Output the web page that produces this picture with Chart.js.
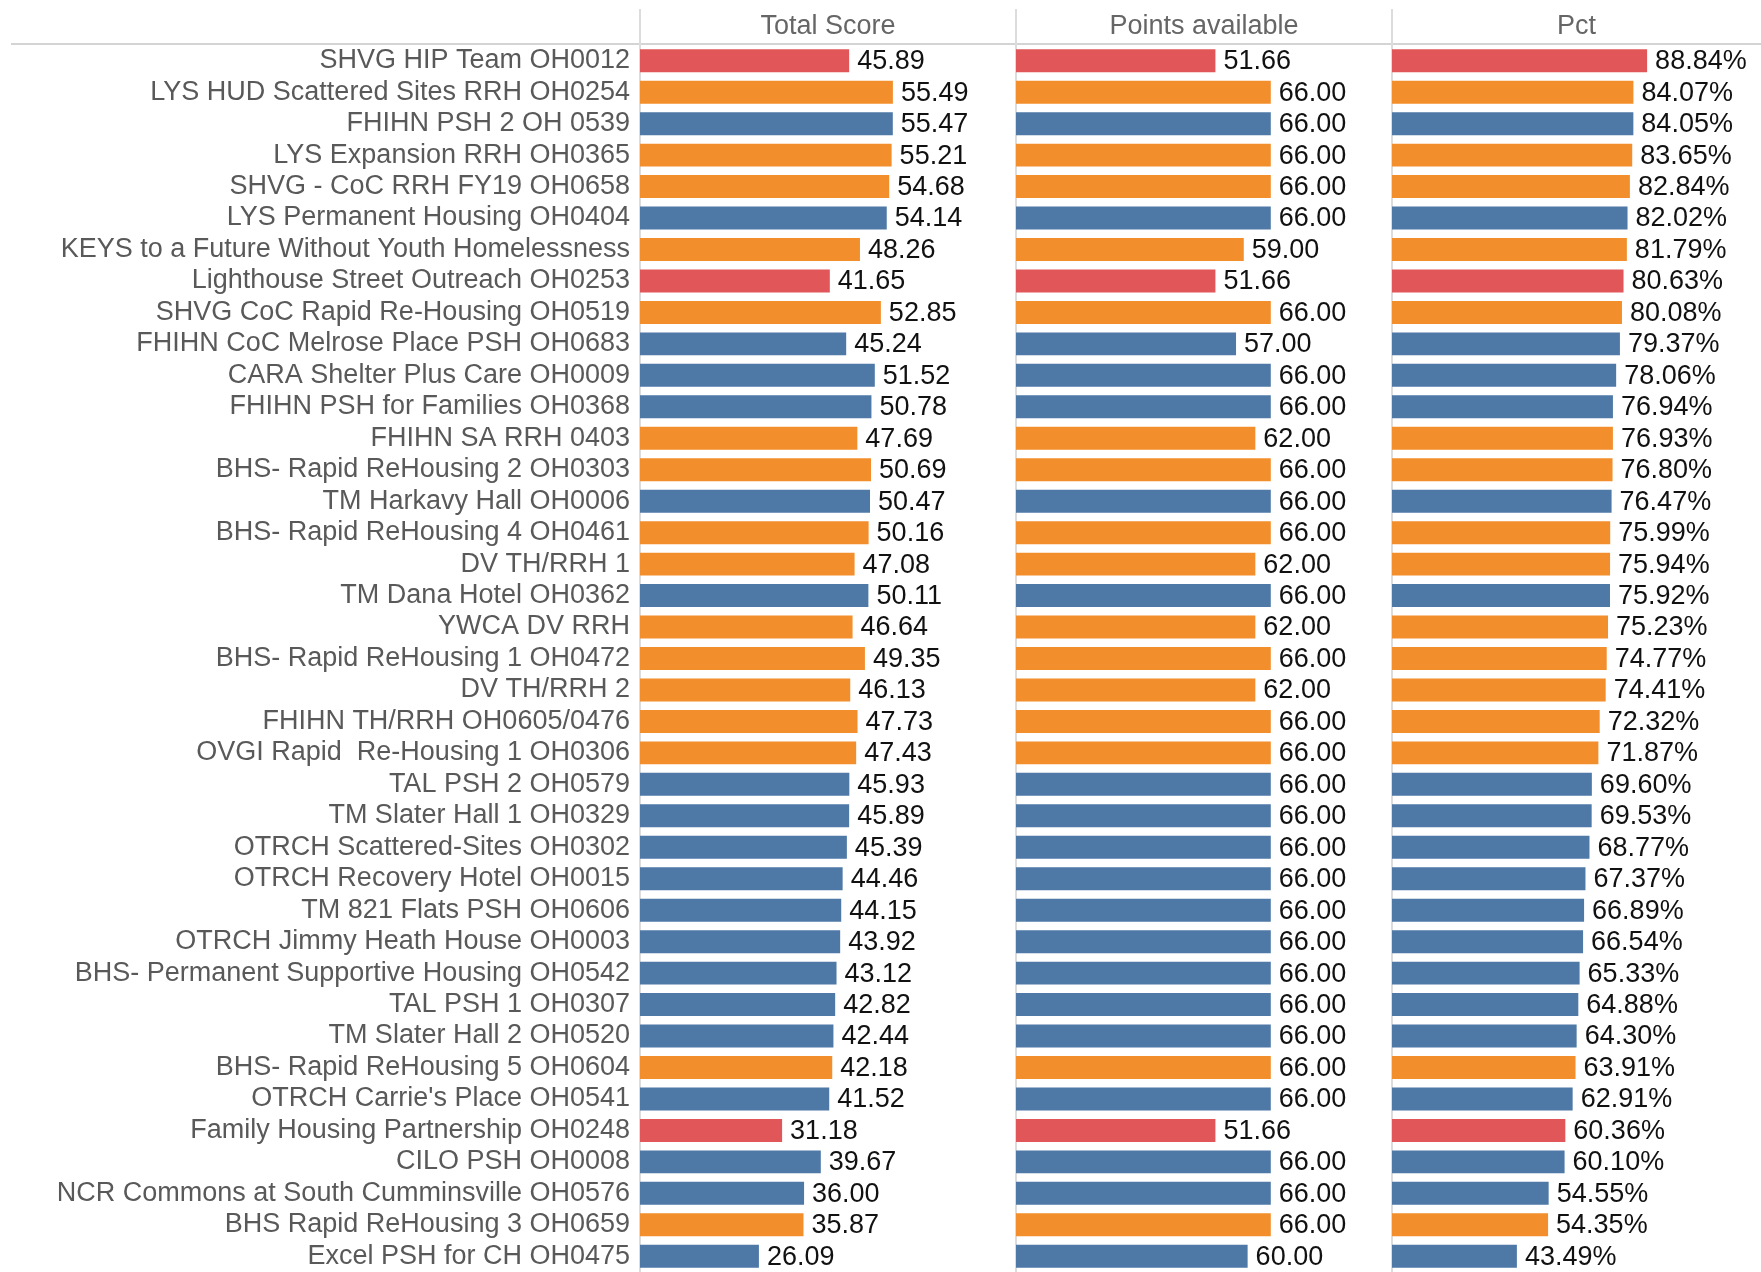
<!DOCTYPE html>
<html>
<head>
<meta charset="utf-8">
<title>Project scores</title>
<script src="https://cdn.jsdelivr.net/npm/chart.js@4.4.1/dist/chart.umd.min.js"></script>
<style>
    html, body { margin: 0; padding: 0; background: #fff; }
    #wrap { width: 1761px; height: 1272px; }
</style>
</head>
<body>
<div id="wrap"><canvas id="scoreChart" width="1761" height="1272"></canvas></div>
<script>
// プロジェクト名
const projects = [
    'SHVG HIP Team OH0012',
    'LYS HUD Scattered Sites RRH OH0254',
    'FHIHN PSH 2 OH 0539',
    'LYS Expansion RRH OH0365',
    'SHVG - CoC RRH FY19 OH0658',
    'LYS Permanent Housing OH0404',
    'KEYS to a Future Without Youth Homelessness',
    'Lighthouse Street Outreach OH0253',
    'SHVG CoC Rapid Re-Housing OH0519',
    'FHIHN CoC Melrose Place PSH OH0683',
    'CARA Shelter Plus Care OH0009',
    'FHIHN PSH for Families OH0368',
    'FHIHN SA RRH 0403',
    'BHS- Rapid ReHousing 2 OH0303',
    'TM Harkavy Hall OH0006',
    'BHS- Rapid ReHousing 4 OH0461',
    'DV TH/RRH 1',
    'TM Dana Hotel OH0362',
    'YWCA DV RRH',
    'BHS- Rapid ReHousing 1 OH0472',
    'DV TH/RRH 2',
    'FHIHN TH/RRH OH0605/0476',
    'OVGI Rapid  Re-Housing 1 OH0306',
    'TAL PSH 2 OH0579',
    'TM Slater Hall 1 OH0329',
    'OTRCH Scattered-Sites OH0302',
    'OTRCH Recovery Hotel OH0015',
    'TM 821 Flats PSH OH0606',
    'OTRCH Jimmy Heath House OH0003',
    'BHS- Permanent Supportive Housing OH0542',
    'TAL PSH 1 OH0307',
    'TM Slater Hall 2 OH0520',
    'BHS- Rapid ReHousing 5 OH0604',
    "OTRCH Carrie's Place OH0541",
    'Family Housing Partnership OH0248',
    'CILO PSH OH0008',
    'NCR Commons at South Cumminsville OH0576',
    'BHS Rapid ReHousing 3 OH0659',
    'Excel PSH for CH OH0475'
];

// プロジェクト種別 (色分け用)
const projectTypes = [
    'SSO', 'RRH', 'PSH', 'RRH', 'RRH', 'PSH', 'RRH', 'SSO', 'RRH', 'PSH',
    'PSH', 'PSH', 'RRH', 'RRH', 'PSH', 'RRH', 'RRH', 'PSH', 'RRH', 'RRH',
    'RRH', 'RRH', 'RRH', 'PSH', 'PSH', 'PSH', 'PSH', 'PSH', 'PSH', 'PSH',
    'PSH', 'PSH', 'RRH', 'PSH', 'SSO', 'PSH', 'PSH', 'RRH', 'PSH'
];

const totalScore = [
    45.89, 55.49, 55.47, 55.21, 54.68, 54.14, 48.26, 41.65, 52.85, 45.24,
    51.52, 50.78, 47.69, 50.69, 50.47, 50.16, 47.08, 50.11, 46.64, 49.35,
    46.13, 47.73, 47.43, 45.93, 45.89, 45.39, 44.46, 44.15, 43.92, 43.12,
    42.82, 42.44, 42.18, 41.52, 31.18, 39.67, 36.00, 35.87, 26.09
];

const pointsAvailable = [
    51.66, 66.00, 66.00, 66.00, 66.00, 66.00, 59.00, 51.66, 66.00, 57.00,
    66.00, 66.00, 62.00, 66.00, 66.00, 66.00, 62.00, 66.00, 62.00, 66.00,
    62.00, 66.00, 66.00, 66.00, 66.00, 66.00, 66.00, 66.00, 66.00, 66.00,
    66.00, 66.00, 66.00, 66.00, 51.66, 66.00, 66.00, 66.00, 60.00
];

const pct = [
    88.84, 84.07, 84.05, 83.65, 82.84, 82.02, 81.79, 80.63, 80.08, 79.37,
    78.06, 76.94, 76.93, 76.80, 76.47, 75.99, 75.94, 75.92, 75.23, 74.77,
    74.41, 72.32, 71.87, 69.60, 69.53, 68.77, 67.37, 66.89, 66.54, 65.33,
    64.88, 64.30, 63.91, 62.91, 60.36, 60.10, 54.55, 54.35, 43.49
];

const columnTitles = ['Total Score', 'Points available', 'Pct'];

const FONT = '"Liberation Sans", Arial, sans-serif';
const FONT_SIZE = 27;

const typeColors = {
    'SSO': '#e15759',
    'RRH': '#f28e2b',
    'PSH': '#4e79a7'
};
const barColors = projectTypes.map(t => typeColors[t]);

/**
 * バー右側に値を描画
 */
const valueLabels = {
    id: 'valueLabels',
    afterDatasetsDraw(chart) {
        const ctx = chart.ctx;
        ctx.save();
        ctx.font = FONT_SIZE + 'px ' + FONT;
        ctx.fillStyle = '#111';
        ctx.textAlign = 'left';
        ctx.textBaseline = 'middle';
        chart.data.datasets.forEach((ds, i) => {
            const meta = chart.getDatasetMeta(i);
            meta.data.forEach((bar, j) => {
                const text = ds.data[j].toFixed(2) + (ds.suffix || '');
                ctx.fillText(text, bar.x + 8, bar.y + 1);
            });
        });
        ctx.restore();
    }
};

/**
 * ヘッダー線と列の区切り線
 */
const frameLines = {
    id: 'frameLines',
    beforeDatasetsDraw(chart) {
        const ctx = chart.ctx;
        const area = chart.chartArea;
        ctx.save();
        ctx.strokeStyle = '#d4d4d4';
        ctx.lineWidth = 2;
        ctx.beginPath();
        ctx.moveTo(11, area.top - 1);
        ctx.lineTo(chart.width, area.top - 1);
        ctx.stroke();

        ctx.strokeStyle = '#dcdcdc';
        ['x1', 'x2', 'x3'].forEach(id => {
            const sc = chart.scales[id];
            ctx.beginPath();
            ctx.moveTo(sc.left, 9);
            ctx.lineTo(sc.left, area.bottom);
            ctx.stroke();
        });
        ctx.restore();
    }
};

// 列ごとの横軸 (上部に並べる; weight が大きいほど左)
function xScale(title, max, widthWeight, order) {
    return {
        type: 'linear',
        position: 'top',
        stack: 'cols',
        stackWeight: widthWeight,
        weight: order,
        min: 0,
        max: max,
        ticks: { display: false },
        grid: { display: false },
        border: { display: false },
        title: {
            display: true,
            text: title,
            color: '#666',
            font: { family: FONT, size: FONT_SIZE },
            padding: { top: 10, bottom: 0 }
        },
        afterFit(scale) {
            scale.height = 45;
        }
    };
}

function makeDataset(data, axisId, suffix) {
    return {
        data: data,
        xAxisID: axisId,
        suffix: suffix,
        backgroundColor: barColors,
        grouped: false,
        categoryPercentage: 1,
        barPercentage: 0.73
    };
}

const chart = new Chart(document.getElementById('scoreChart').getContext('2d'), {
    type: 'bar',
    data: {
        labels: projects,
        datasets: [
            makeDataset(totalScore, 'x1', ''),
            makeDataset(pointsAvailable, 'x2', ''),
            makeDataset(pct, 'x3', '%')
        ]
    },
    options: {
        indexAxis: 'y',
        responsive: false,
        animation: false,
        events: [],
        layout: { padding: 0 },
        plugins: {
            legend: { display: false },
            tooltip: { enabled: false }
        },
        scales: {
            x1: xScale(columnTitles[0], 82.5, 376, 3),
            x2: xScale(columnTitles[1], 97.4, 376, 2),
            x3: xScale(columnTitles[2], 128.5, 369, 1),
            y: {
                type: 'category',
                position: 'left',
                grid: { display: false, drawTicks: false },
                border: { display: false },
                ticks: {
                    color: '#595959',
                    font: { family: FONT, size: FONT_SIZE },
                    padding: 10,
                    autoSkip: false
                },
                afterFit(scale) {
                    scale.width = 640;
                    scale.paddingTop = 0;
                    scale.paddingBottom = 0;
                }
            }
        }
    },
    plugins: [frameLines, valueLabels]
});
</script>
</body>
</html>
